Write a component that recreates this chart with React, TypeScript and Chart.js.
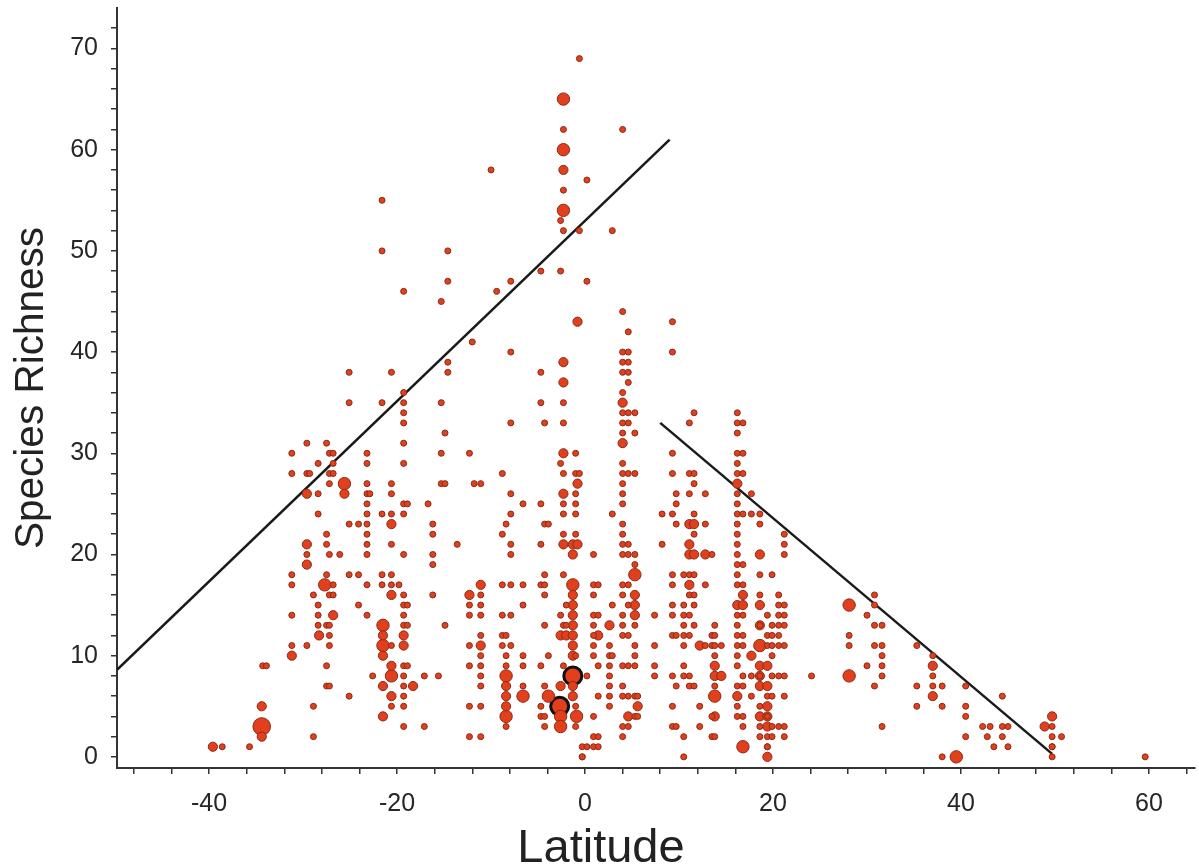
import React, { useEffect, useRef } from 'react';
import { Chart, registerables } from 'chart.js';

Chart.register(...registerables);

type Col = [number, number[]];

// Latitude columns -> species richness values, grouped by marker size
const smallCols: Col[] = [
  [-38.6, [1]],
  [-35.7, [1]],
  [-34.3, [9]],
  [-33.9, [9]],
  [-31.2, [30, 28, 18, 17, 14, 11]],
  [-29.6, [31, 28, 20, 11]],
  [-29.3, [28]],
  [-28.9, [16, 5, 2]],
  [-28.4, [29, 26, 24, 15, 14, 13]],
  [-27.5, [31, 22, 21, 18, 13, 9, 7]],
  [-27.2, [30, 28, 27, 20, 16, 13, 12, 11, 7]],
  [-26.8, [30, 29, 28, 17, 16]],
  [-26.1, [20]],
  [-25.1, [38, 35, 23, 18, 6]],
  [-24.1, [23, 18, 15]],
  [-23.2, [30, 29, 27, 26, 25, 24, 23, 22, 21, 20, 17, 14]],
  [-22.9, [26]],
  [-22.6, [8]],
  [-21.6, [55, 50, 35, 24, 18, 17]],
  [-20.6, [38, 27, 26, 24, 21, 18, 17, 11, 5]],
  [-19.8, [17]],
  [-19.3, [46, 36, 35, 34, 33, 31, 29, 25, 24, 20, 16, 15, 14, 13, 9, 8, 7, 6, 5, 3]],
  [-18.9, [25, 15, 13, 9]],
  [-17.1, [8, 3]],
  [-16.7, [25]],
  [-16.2, [23, 22, 20, 19, 16]],
  [-15.6, [8]],
  [-15.3, [45, 35, 30, 27]],
  [-14.9, [32, 27, 13]],
  [-14.6, [50, 47, 39, 38]],
  [-13.6, [21]],
  [-12.3, [30, 15, 14, 11, 9, 5, 2]],
  [-12.0, [41]],
  [-11.8, [27]],
  [-11.1, [27, 16, 15, 14, 12, 10, 9, 8, 7, 5, 2]],
  [-10.0, [58]],
  [-9.4, [46]],
  [-8.8, [28, 22, 17, 14, 12, 11]],
  [-8.4, [23, 12, 10, 9, 3]],
  [-7.9, [47, 40, 33, 26, 24, 21, 20, 17, 14, 11]],
  [-6.6, [25, 17, 15, 10, 9, 7]],
  [-4.7, [48, 38, 35, 25, 21, 17, 9, 5, 4]],
  [-4.3, [33, 23, 18, 17, 16, 13, 7, 4, 3]],
  [-3.9, [23, 10]],
  [-2.6, [53, 48, 29, 14]],
  [-2.3, [62, 56, 52, 35, 33, 28, 25, 24, 22, 18, 13, 9]],
  [-2.0, [15, 13]],
  [-1.0, [30, 28, 26, 25, 24, 22, 10, 5, 3]],
  [-0.6, [69, 52, 28]],
  [-0.3, [0, 0, 1]],
  [0.2, [57, 47, 8, 1]],
  [0.9, [20, 17, 16, 14, 13, 12, 11, 10, 4, 2, 1]],
  [1.4, [17, 14, 9, 6, 2, 1]],
  [2.6, [11, 10, 9, 8, 7, 6, 5]],
  [2.9, [52, 24, 15, 10]],
  [4.0, [62, 44, 40, 39, 38, 36, 34, 33, 32, 29, 28, 27, 26, 25, 23, 22, 21, 20, 17, 16, 14, 13, 12, 9, 7, 6, 3, 2]],
  [4.6, [42, 40, 39, 38, 37, 34, 33, 28, 21, 20, 17, 15, 12, 9, 6, 3]],
  [5.3, [34, 32, 28, 20, 19, 13, 11, 10, 9, 6, 4]],
  [5.6, [6, 4]],
  [7.4, [14, 11, 9, 8]],
  [8.2, [24, 21]],
  [9.3, [43, 40, 30, 28, 24, 18, 17, 15, 14, 12, 8, 5, 3]],
  [9.7, [26, 25, 23, 12, 7, 3]],
  [10.5, [18, 15, 14, 13, 12, 11, 9, 8, 2, 0]],
  [11.1, [33, 28, 26, 18, 16, 14, 12, 8, 7]],
  [11.6, [34, 28, 27, 24, 22, 18, 16, 15, 13, 7]],
  [12.2, [5, 3]],
  [12.8, [26, 23, 17, 11]],
  [13.5, [20, 12, 11, 4, 2]],
  [13.8, [13, 12, 11, 10, 7, 2]],
  [14.5, [11]],
  [16.2, [34, 33, 32, 30, 29, 28, 26, 25, 24, 23, 22, 21, 20, 19, 18, 17, 14, 13, 12, 11, 10, 9, 7, 5, 4]],
  [16.8, [33, 30, 28, 24, 19, 17, 14, 12, 11, 8, 7, 4, 3]],
  [17.7, [26, 24, 8, 6]],
  [18.6, [24, 23, 18, 16, 13, 8, 5, 3, 2]],
  [19.4, [14, 12, 11, 6, 4, 2, 1, 1]],
  [19.9, [18, 13, 12, 11, 10, 8, 6, 3, 2]],
  [20.6, [16, 15, 14, 13, 12, 11, 8, 3]],
  [21.2, [22, 21, 20, 15, 14, 13, 11, 8, 6, 3, 2]],
  [24.1, [8]],
  [28.1, [12, 11]],
  [30.0, [14, 9]],
  [30.8, [16, 15, 13, 11, 7]],
  [31.6, [13, 11, 10, 9, 8, 3]],
  [35.3, [11, 7, 5]],
  [37.0, [10, 8, 7]],
  [38.0, [7, 5, 0]],
  [40.5, [7, 5, 4, 2]],
  [42.3, [3]],
  [42.8, [2]],
  [43.1, [3]],
  [43.5, [1]],
  [44.4, [6, 3, 2]],
  [45.0, [3, 1]],
  [49.7, [3, 2, 1, 1, 0]],
  [50.7, [2]],
  [59.6, [0]],
];

const mediumCols: Col[] = [
  [-39.6, [1]],
  [-34.4, [5, 2]],
  [-31.2, [10]],
  [-29.6, [26, 21, 19]],
  [-28.3, [12]],
  [-26.8, [14]],
  [-25.6, [26]],
  [-21.5, [12, 10, 7, 4]],
  [-20.6, [23, 16, 9, 6]],
  [-19.3, [12, 11]],
  [-18.3, [7]],
  [-12.3, [16]],
  [-11.1, [17, 11]],
  [-8.4, [7, 6, 5]],
  [-2.6, [12, 7]],
  [-2.3, [58, 39, 37, 30, 26, 21]],
  [-2.0, [12]],
  [-1.3, [21, 20, 16, 15, 14, 13, 12, 11, 10, 7, 6]],
  [-0.8, [43, 27, 21]],
  [1.4, [12]],
  [2.6, [13]],
  [4.0, [35, 31]],
  [4.6, [4]],
  [5.3, [16, 15, 14]],
  [5.6, [5]],
  [11.1, [23, 21, 20, 17]],
  [11.6, [23, 20]],
  [12.2, [11]],
  [12.8, [20]],
  [13.8, [9, 8, 4]],
  [14.5, [8]],
  [16.2, [27, 15, 6]],
  [16.8, [16, 15]],
  [17.7, [10]],
  [18.6, [20, 15, 13, 9, 8, 7, 4]],
  [19.4, [9, 7, 5, 4, 3, 0]],
  [37.0, [9, 6]],
  [48.9, [3]],
  [49.7, [4]],
];

const largeCols: Col[] = [
  [-27.7, [17]],
  [-25.6, [27]],
  [-21.5, [13, 11]],
  [-20.6, [8]],
  [-8.4, [8, 4]],
  [-6.6, [6]],
  [-3.9, [6]],
  [-2.6, [4, 3]],
  [-2.3, [65, 60, 54]],
  [-1.3, [17]],
  [-0.9, [4]],
  [5.3, [18]],
  [13.8, [6]],
  [16.8, [1]],
  [18.6, [11]],
  [28.1, [15, 8]],
  [39.5, [0]],
];

const xlargeCols: Col[] = [[-34.4, [3]]];

const ringCols: Col[] = [
  [-1.3, [8]],
  [-2.7, [5]],
];

const southLine: [number, number][] = [[-49.8, 8.6], [9.0, 61.0]];
const northLine: [number, number][] = [[8.0, 33.0], [49.7, 0.3]];

const xLabelTicks = [-40, -20, 0, 20, 40, 60];
const yLabelTicks = [0, 10, 20, 30, 40, 50, 60, 70];

const toPts = (cols: Col[]) => cols.flatMap(([x, ys]) => ys.map((y) => ({ x, y })));
const linePts = (l: [number, number][]) => l.map(([x, y]) => ({ x, y }));

const FILL = '#e2401d';
const EDGE = '#8a2a17';
const FONT = '"Liberation Sans", Arial, sans-serif';

const xTitlePlugin = {
  id: 'xTitlePlugin',
  afterDraw(chart: any) {
    const { ctx } = chart;
    ctx.save();
    ctx.font = `47px ${FONT}`;
    ctx.fillStyle = '#222';
    ctx.textAlign = 'center';
    ctx.textBaseline = 'alphabetic';
    ctx.fillText('Latitude', 601, 862);
    ctx.restore();
  },
};

export default function App() {
  const ref = useRef<HTMLCanvasElement | null>(null);

  useEffect(() => {
    if (!ref.current) return;
    const mk = (label: string, cols: Col[], r: number, border: string, bw: number) => ({
      label,
      data: toPts(cols),
      pointRadius: r,
      pointHoverRadius: r,
      pointBackgroundColor: FILL,
      pointBorderColor: border,
      pointBorderWidth: bw,
      showLine: false,
    });
    const chart = new Chart(ref.current, {
      type: 'scatter',
      data: {
        datasets: [
          mk('small', smallCols, 3, EDGE, 1),
          mk('medium', mediumCols, 4.6, EDGE, 1),
          mk('large', largeCols, 6.2, EDGE, 1),
          mk('xlarge', xlargeCols, 8.8, EDGE, 1),
          mk('ring', ringCols, 9, '#111', 3),
          {
            label: 'south',
            data: linePts(southLine),
            showLine: true,
            borderColor: '#1a1a1a',
            borderWidth: 2.5,
            pointRadius: 0,
          } as any,
          {
            label: 'north',
            data: linePts(northLine),
            showLine: true,
            borderColor: '#1a1a1a',
            borderWidth: 2.5,
            pointRadius: 0,
          } as any,
        ],
      },
      options: {
        responsive: false,
        animation: false,
        devicePixelRatio: 1,
        layout: { autoPadding: false, padding: { top: 8, right: 4, left: 0, bottom: 0 } },
        plugins: { legend: { display: false }, tooltip: { enabled: false } },
        scales: {
          x: {
            type: 'linear',
            position: 'bottom',
            min: -49.8,
            max: 64.9,
            border: { color: '#333', width: 2 },
            grid: { drawOnChartArea: false, drawTicks: true, tickLength: 6, color: '#333', lineWidth: 1.5 },
            afterBuildTicks: (s: any) => {
              const t = [];
              for (let v = -48; v <= 64; v += 4) t.push({ value: v });
              s.ticks = t;
            },
            afterFit: (s: any) => {
              s.height = 99;
              s.paddingLeft = 0;
              s.paddingRight = 0;
            },
            ticks: {
              autoSkip: false,
              maxRotation: 0,
              padding: 15,
              color: '#262626',
              font: { family: FONT, size: 25 },
              callback: (v: any) => (xLabelTicks.includes(Number(v)) ? String(v) : ''),
            },
          },
          y: {
            type: 'linear',
            min: -1.1,
            max: 74,
            border: { color: '#333', width: 2 },
            grid: { drawOnChartArea: false, drawTicks: true, tickLength: 6, color: '#333', lineWidth: 1.5 },
            afterBuildTicks: (s: any) => {
              const t = [];
              for (let v = 0; v <= 72; v += 2) t.push({ value: v });
              s.ticks = t;
            },
            afterFit: (s: any) => {
              s.width = 117;
              s.paddingTop = 0;
              s.paddingBottom = 0;
            },
            title: {
              display: true,
              text: 'Species Richness',
              color: '#222',
              font: { family: FONT, size: 40.5, lineHeight: 1.2 },
              padding: { top: 8, bottom: 0 },
            },
            ticks: {
              autoSkip: false,
              padding: 13,
              color: '#262626',
              font: { family: FONT, size: 25 },
              callback: (v: any) => (yLabelTicks.includes(Number(v)) ? String(v) : ''),
            },
          },
        },
      },
      plugins: [xTitlePlugin],
    } as any);
    return () => chart.destroy();
  }, []);

  return (
    <div style={{ position: 'fixed', left: 0, top: 0, width: 1199, height: 867, background: '#fff' }}>
      <canvas ref={ref} width={1199} height={867} style={{ display: 'block' }} />
    </div>
  );
}
